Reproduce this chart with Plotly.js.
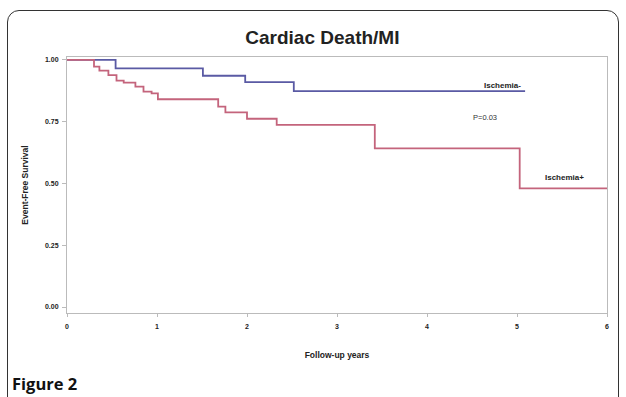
<!DOCTYPE html>
<html>
<head>
<meta charset="utf-8">
<script src="https://cdn.plot.ly/plotly-3.0.1.min.js"></script>
<style>
  html, body { margin: 0; padding: 0; background: #fff; }
  #wrap { position: relative; width: 626px; height: 397px; overflow: hidden; }
  #frame { position: absolute; left: 7px; top: 10px; width: 612px; height: 420px;
           border: 1px solid #333; border-radius: 12px; box-sizing: border-box; }
  #chart { position: absolute; left: 0; top: 0; width: 626px; height: 397px; }
</style>
</head>
<body>
<div id="wrap">
  <div id="frame"></div>
  <div id="chart"></div>
</div>
<script>
// Ischemia- (blue)
const yearsNeg = [0, 0.54, 1.51, 1.98, 2.52, 5.09];
const survNeg  = [1.0, 0.966, 0.936, 0.910, 0.874, 0.874];
// Ischemia+ (red)
const yearsPos = [0, 0.30, 0.36, 0.46, 0.55, 0.63, 0.76, 0.85, 0.94, 1.01, 1.68, 1.76, 2.00, 2.33, 3.42, 5.03, 6.0];
const survPos  = [1.0, 0.973, 0.957, 0.939, 0.916, 0.908, 0.892, 0.872, 0.865, 0.841, 0.811, 0.788, 0.762, 0.737, 0.642, 0.48, 0.48];
const xTicks = [0, 1, 2, 3, 4, 5, 6];
const yTicks = [0, 0.25, 0.5, 0.75, 1.0];
const yTickText = ["0.00", "0.25", "0.50", "0.75", "1.00"];

const traces = [
  { x: yearsNeg, y: survNeg, mode: 'lines', line: { shape: 'hv', color: '#5a5aa4', width: 1.8 }, name: 'Ischemia-' },
  { x: yearsPos, y: survPos, mode: 'lines', line: { shape: 'hv', color: '#c4647c', width: 1.8 }, name: 'Ischemia+' }
];

const FF = 'Liberation Sans, Arial, sans-serif';
const labFont = { family: FF, size: 8, color: '#222', weight: 'bold' };

const layout = {
  width: 626, height: 397,
  margin: { l: 67, r: 19, t: 57, b: 84 },
  paper_bgcolor: 'rgba(0,0,0,0)',
  plot_bgcolor: '#fff',
  showlegend: false,
  title: { text: '<b>Cardiac Death/MI</b>', x: 0.515, xanchor: 'center', y: 0.905, yanchor: 'middle',
           font: { family: FF, size: 19, color: '#222' } },
  xaxis: {
    range: [0, 6], tickvals: xTicks, ticktext: xTicks.map(String),
    showgrid: false, zeroline: false, showline: true, mirror: true, linecolor: '#bbb', linewidth: 1,
    ticks: 'outside', ticklen: 3, tickcolor: '#bbb', ticklabelstandoff: 4,
    tickfont: { family: FF, size: 7, color: '#222', weight: 'bold' },
    title: { text: '<b>Follow-up years</b>', standoff: 22, font: { family: FF, size: 8.5, color: '#222' } }
  },
  yaxis: {
    range: [-0.0243, 1.012], tickvals: yTicks, ticktext: yTickText,
    showgrid: false, zeroline: false, showline: true, mirror: true, linecolor: '#bbb', linewidth: 1,
    ticks: 'outside', ticklen: 4, tickcolor: '#bbb', ticklabelstandoff: 2,
    tickfont: { family: FF, size: 7, color: '#222', weight: 'bold' },
    title: { text: '<b>Event-Free Survival</b>', standoff: 14, font: { family: FF, size: 8.5, color: '#222' } }
  },
  annotations: [
    { x: 4.84, y: 0.895, xref: 'x', yref: 'y', text: 'Ischemia-', showarrow: false, font: labFont, xanchor: 'center', yanchor: 'middle' },
    { x: 4.64, y: 0.769, xref: 'x', yref: 'y', text: 'P=0.03', showarrow: false, font: { family: FF, size: 7.5, color: '#333' }, xanchor: 'center', yanchor: 'middle' },
    { x: 5.53, y: 0.526, xref: 'x', yref: 'y', text: 'Ischemia+', showarrow: false, font: labFont, xanchor: 'center', yanchor: 'middle' },
    { x: -0.105, y: -0.275, xref: 'paper', yref: 'paper', text: '<b>Figure 2</b>', showarrow: false,
      font: { family: 'Open Sans, sans-serif', size: 16.5, color: '#111' }, xanchor: 'left', yanchor: 'middle' }
  ]
};

Plotly.newPlot('chart', traces, layout, { staticPlot: true, displayModeBar: false });
</script>
</body>
</html>
